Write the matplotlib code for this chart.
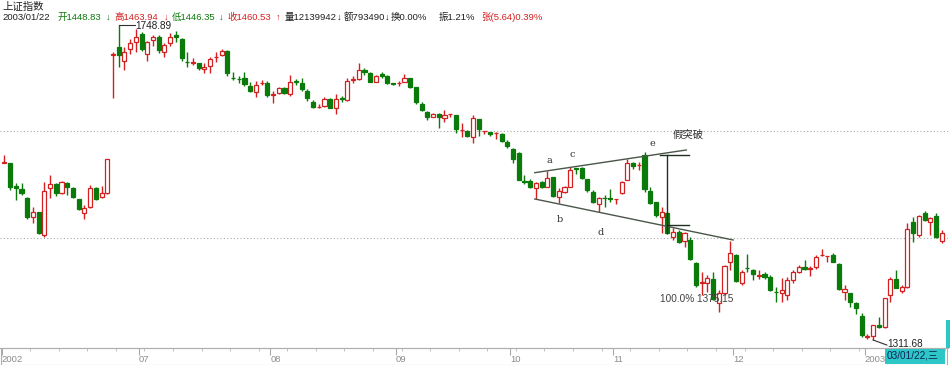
import matplotlib
matplotlib.use('Agg')
import matplotlib.pyplot as plt
from matplotlib.patches import Rectangle
import numpy as np

# 上证指数 日K线 2002/06 - 2003/01/22
opens = [
    1558.0, 1557.4, 1525.4, 1521.3, 1508.8, 1482.4, 1489.3, 1457.4, 1522.7, 1528.2,
    1515.7, 1529.6, 1522.7, 1507.4, 1488.0, 1496.3, 1522.7, 1510.2, 1515.7, 1707.3,
    1718.4, 1699.3, 1715.6, 1725.3, 1736.4, 1708.6, 1728.1, 1732.2, 1711.4, 1723.9,
    1735.0, 1729.5, 1698.2, 1696.8, 1696.2, 1687.8, 1692.0, 1703.8, 1707.3, 1712.8,
    1676.0, 1674.6, 1675.3, 1664.2, 1655.9, 1667.7, 1668.4, 1652.4, 1654.5, 1661.5,
    1653.1, 1670.5, 1668.4, 1657.3, 1642.0, 1634.4, 1636.5, 1646.2, 1633.7, 1646.9,
    1644.8, 1673.2, 1673.9, 1686.4, 1682.3, 1669.8, 1680.9, 1678.1, 1667.7, 1667.7,
    1669.8, 1675.3, 1662.8, 1639.2, 1628.1, 1621.2, 1625.4, 1619.8, 1624.7, 1624.0,
    1602.5, 1601.8, 1593.4, 1618.4, 1601.1, 1600.4, 1598.3, 1597.6, 1586.5, 1576.8,
    1571.2, 1531.7, 1532.4, 1522.7, 1531.0, 1524.0, 1537.9, 1510.2, 1517.1, 1524.0,
    1550.4, 1550.4, 1535.1, 1517.1, 1500.4, 1508.8, 1508.1, 1506.7, 1515.7, 1533.8,
    1557.4, 1553.9, 1568.5, 1518.5, 1503.2, 1482.4, 1488.0, 1454.6, 1461.6, 1449.1,
    1450.5, 1418.6, 1391.5, 1390.8, 1396.4, 1363.0, 1376.9, 1419.9, 1429.7, 1390.8,
    1412.3, 1408.8, 1401.2, 1403.3, 1399.1, 1379.0, 1376.9, 1374.1, 1395.0, 1406.1,
    1413.0, 1410.9, 1413.0, 1429.0, 1427.6, 1429.7, 1417.2, 1378.3, 1376.9, 1363.0,
    1345.0, 1316.5, 1317.2, 1332.5, 1329.7, 1374.1, 1396.3, 1379.7, 1385.2, 1475.5,
    1457.4, 1488.0, 1475.5, 1483.8, 1448.83]
closes = [
    1558.7, 1524.0, 1522.7, 1515.7, 1482.4, 1489.3, 1460.2, 1518.5, 1528.2, 1515.7,
    1531.0, 1524.0, 1510.2, 1493.5, 1494.9, 1522.7, 1507.4, 1515.7, 1562.9, 1708.6,
    1707.3, 1711.8, 1723.9, 1732.2, 1715.6, 1725.3, 1732.2, 1714.2, 1721.1, 1732.2,
    1732.2, 1703.1, 1697.5, 1697.5, 1689.2, 1690.6, 1701.7, 1704.5, 1712.8, 1682.3,
    1675.3, 1673.9, 1667.0, 1657.3, 1665.6, 1668.4, 1651.7, 1653.1, 1661.5, 1654.5,
    1669.8, 1669.8, 1660.1, 1647.6, 1635.1, 1635.1, 1646.2, 1633.7, 1646.2, 1646.2,
    1671.2, 1673.9, 1686.4, 1683.7, 1669.8, 1678.1, 1678.1, 1668.4, 1667.0, 1668.4,
    1675.3, 1662.8, 1642.0, 1630.9, 1621.2, 1625.4, 1621.2, 1624.0, 1625.4, 1604.5,
    1603.2, 1594.8, 1619.8, 1604.5, 1601.8, 1597.6, 1599.0, 1587.9, 1580.9, 1562.9,
    1533.8, 1531.0, 1524.0, 1529.6, 1524.0, 1536.5, 1511.6, 1518.5, 1524.0, 1547.6,
    1549.7, 1536.5, 1519.9, 1503.2, 1508.8, 1508.1, 1507.4, 1507.4, 1531.0, 1557.4,
    1553.2, 1554.6, 1521.3, 1501.8, 1485.2, 1489.3, 1460.2, 1461.6, 1447.7, 1460.2,
    1424.1, 1388.0, 1392.2, 1397.7, 1368.6, 1376.9, 1414.4, 1432.4, 1393.6, 1406.1,
    1411.6, 1403.3, 1401.9, 1399.1, 1381.1, 1378.3, 1381.1, 1395.0, 1406.1, 1413.0,
    1410.2, 1411.6, 1426.9, 1429.7, 1428.3, 1420.0, 1382.5, 1382.5, 1364.4, 1356.1,
    1318.6, 1317.2, 1332.5, 1329.7, 1370.0, 1396.3, 1383.9, 1385.2, 1465.7, 1460.2,
    1483.8, 1478.2, 1481.0, 1454.6, 1460.53]
highs = [
    1568.5, 1558.0, 1529.6, 1529.6, 1510.0, 1496.3, 1490.0, 1531.0, 1540.7, 1529.0,
    1532.0, 1530.5, 1523.5, 1508.0, 1499.1, 1526.8, 1523.5, 1525.4, 1563.5, 1711.4,
    1748.89, 1718.8, 1729.5, 1743.3, 1739.2, 1726.7, 1735.0, 1735.0, 1723.9, 1737.8,
    1740.6, 1730.9, 1711.4, 1703.1, 1696.5, 1696.2, 1704.5, 1711.4, 1715.6, 1713.5,
    1683.7, 1678.1, 1683.7, 1669.8, 1671.2, 1672.6, 1671.2, 1657.3, 1662.8, 1662.2,
    1679.5, 1673.9, 1675.3, 1660.1, 1644.8, 1639.2, 1649.0, 1647.6, 1653.1, 1650.4,
    1675.3, 1678.1, 1696.2, 1689.2, 1683.7, 1678.8, 1683.7, 1679.5, 1668.4, 1671.2,
    1680.9, 1676.0, 1663.5, 1642.0, 1629.5, 1626.1, 1626.1, 1630.9, 1625.6, 1624.5,
    1612.9, 1603.2, 1624.0, 1619.0, 1602.0, 1601.0, 1600.4, 1599.0, 1589.3, 1578.2,
    1572.6, 1540.7, 1535.2, 1531.0, 1532.4, 1546.3, 1538.6, 1522.7, 1525.4, 1551.8,
    1550.6, 1551.1, 1535.5, 1519.9, 1510.2, 1512.9, 1521.3, 1507.6, 1531.7, 1562.9,
    1558.1, 1558.7, 1572.6, 1524.0, 1503.9, 1496.3, 1488.7, 1467.1, 1464.4, 1461.6,
    1454.6, 1419.3, 1406.1, 1401.9, 1406.1, 1381.1, 1415.8, 1449.1, 1431.0, 1408.8,
    1431.0, 1410.2, 1408.8, 1406.1, 1401.9, 1385.2, 1397.7, 1399.1, 1408.8, 1415.8,
    1422.7, 1414.4, 1429.7, 1438.0, 1428.5, 1432.4, 1417.9, 1388.0, 1377.6, 1364.4,
    1349.2, 1320.0, 1333.0, 1343.6, 1370.6, 1399.1, 1408.8, 1388.0, 1474.1, 1482.4,
    1485.2, 1490.7, 1482.4, 1488.0, 1463.94]
lows = [
    1557.4, 1519.9, 1506.0, 1512.9, 1479.6, 1474.1, 1459.0, 1454.6, 1508.8, 1511.6,
    1514.0, 1512.9, 1509.0, 1492.1, 1479.6, 1495.0, 1506.0, 1509.0, 1515.0, 1647.6,
    1690.6, 1686.4, 1708.6, 1711.4, 1712.8, 1698.9, 1719.8, 1710.0, 1704.5, 1719.8,
    1725.3, 1698.9, 1690.6, 1693.4, 1686.4, 1682.3, 1682.3, 1697.5, 1705.9, 1678.1,
    1672.6, 1668.4, 1664.2, 1655.9, 1649.0, 1665.6, 1649.0, 1640.6, 1653.1, 1653.1,
    1650.4, 1665.6, 1657.3, 1643.4, 1633.7, 1633.7, 1635.1, 1633.0, 1625.4, 1642.0,
    1644.0, 1668.4, 1672.6, 1679.5, 1669.1, 1669.1, 1675.3, 1667.0, 1664.9, 1664.2,
    1669.5, 1661.5, 1639.2, 1629.5, 1617.0, 1620.5, 1605.9, 1614.3, 1621.2, 1599.0,
    1593.4, 1593.4, 1585.1, 1594.8, 1597.6, 1594.8, 1590.7, 1586.5, 1578.2, 1557.4,
    1533.1, 1528.2, 1522.7, 1507.4, 1522.7, 1523.4, 1510.2, 1501.8, 1516.4, 1523.4,
    1542.1, 1535.8, 1517.1, 1501.8, 1489.3, 1496.3, 1503.2, 1500.4, 1515.0, 1533.1,
    1549.0, 1547.6, 1517.1, 1501.1, 1482.4, 1460.2, 1458.8, 1450.5, 1446.3, 1440.8,
    1422.7, 1385.2, 1374.1, 1378.3, 1367.2, 1350.5, 1374.1, 1408.8, 1392.2, 1388.0,
    1406.1, 1395.0, 1396.3, 1396.3, 1379.7, 1364.4, 1364.4, 1367.2, 1390.8, 1404.7,
    1408.8, 1400.5, 1410.2, 1428.3, 1420.0, 1419.3, 1381.1, 1367.2, 1357.5, 1347.8,
    1315.8, 1313.1, 1311.68, 1329.0, 1329.0, 1364.4, 1383.2, 1376.9, 1384.5, 1447.7,
    1454.6, 1476.9, 1457.4, 1453.3, 1446.35]

# 月份刻度 (月初K线序号)
month_start = [0, 24, 47, 69, 89, 107, 128, 151]
month_labels = ['2002', '07', '08', '09', '10', '11', '12', '2003']

ref_levels = [1601.8, 1453.3]

RED = '#d42020'
GREEN = '#0a7a0a'
LINE = '#4a564a'

plt.rcParams['font.family'] = ['Liberation Sans', 'Noto Sans CJK SC', 'DejaVu Sans']

o = np.array(opens)
c = np.array(closes)
h = np.array(highs)
l = np.array(lows)
x = np.arange(len(o))
up = c >= o

fig = plt.figure(figsize=(9.5, 3.65), dpi=100)
ax = fig.add_axes([0, 17 / 365, 948 / 950, 328 / 365])

# 参考虚线
for lv in ref_levels:
    ax.axhline(lv, color='#a8a8a8', lw=0.8, ls=(0, (1, 2)), zorder=1)

# 影线
ax.vlines(x, l, h, colors=np.where(up, RED, GREEN), lw=1, zorder=2)
# 实体
bottom = np.minimum(o, c)
height = np.maximum(np.abs(c - o), 0.4)
ax.bar(x[up], height[up], bottom=bottom[up], width=0.72, facecolor='white',
       edgecolor=RED, linewidth=0.9, zorder=3)
ax.bar(x[~up], height[~up], bottom=bottom[~up], width=0.72, facecolor=GREEN,
       edgecolor=GREEN, linewidth=0.9, zorder=3)

# 趋势线
ax.plot([92.8, 119.3], [1543.9, 1575.4], color=LINE, lw=1, zorder=4)
ax.plot([92.8, 127.5], [1507.4, 1450.5], color=LINE, lw=1, zorder=4)
# 假突破 测量线
ax.plot([115.9, 115.9], [1568.5, 1460.2], color='#203020', lw=1, zorder=4)
ax.plot([114.7, 119.8], [1568.5, 1568.5], color='#203020', lw=1, zorder=4)
ax.plot([115.9, 119.8], [1471.3, 1471.3], color='#203020', lw=1, zorder=4)

serif = ['DejaVu Serif']
ax.text(95.3, 1561.5, 'a', fontsize=7, family=serif, color='#303030', ha='center', va='center')
ax.text(97.2, 1479.6, 'b', fontsize=7, family=serif, color='#303030', ha='center', va='center')
ax.text(99.3, 1568.5, 'c', fontsize=7, family=serif, color='#303030', ha='center', va='center')
ax.text(104.4, 1460.2, 'd', fontsize=7, family=serif, color='#303030', ha='center', va='center')
ax.text(113.3, 1585.1, 'e', fontsize=7, family=serif, color='#303030', ha='center', va='center')
ax.text(117.0, 1596.2, '假突破', fontsize=7.5, family=['Noto Sans CJK SC'], color='#303030',
        ha='left', va='center')
ax.text(114.7, 1368.6, '100.0% 1375.15', fontsize=7.2, color='#404040', ha='left', va='center')

# 最高/最低标注
ax.plot([20, 22.8], [1748.89, 1748.89], color='#303030', lw=0.8, zorder=4)
ax.text(22.9, 1747.5, '1748.89', fontsize=7.2, color='#202020', ha='left', va='center')
ax.plot([152, 154.4], [1311.68, 1304.7], color='#303030', lw=0.8, zorder=4)
ax.text(154.5, 1306.0, '1311.68', fontsize=7.2, color='#202020', ha='left', va='center')

ax.set_xlim(-0.77, 165.1)
ax.set_ylim(1300.6, 1755.8)
for s in ['top', 'right', 'left']:
    ax.spines[s].set_visible(False)
ax.spines['bottom'].set_color('#a8a8a8')
ax.set_yticks([])
ax.set_xticks([m - 0.5 for m in month_start])
ax.set_xticklabels(month_labels, ha='left', fontsize=6.8, color='#8c8c8c')
ax.set_xticks(np.arange(4.5, 165, 5), minor=True)
ax.tick_params(axis='x', which='major', direction='out', length=5, color='#a8a8a8', pad=0)
ax.tick_params(axis='x', which='minor', direction='out', length=2, color='#b8b8b8')

# 底部坐标带边框
fig.patches.append(Rectangle((0.5 / 950, 0.5 / 365), 946 / 950, 16.5 / 365,
                             transform=fig.transFigure, fill=False,
                             edgecolor='#b0b0b0', lw=0.8))
fig.patches.append(Rectangle((885 / 950, 1 / 365), 60 / 950, 15 / 365,
                             transform=fig.transFigure, facecolor='#2cc6c6',
                             edgecolor='none', zorder=5))
fig.text(887 / 950, 1 - 356 / 365, '03/01/22,三', fontsize=7.2, color='#10205a',
         va='center', zorder=6)
fig.patches.append(Rectangle((946 / 950, 17 / 365), 4 / 950, 28 / 365,
                             transform=fig.transFigure, facecolor='#2cc6c6',
                             edgecolor='none'))

# 顶部行情信息
def head(px, s, color='#202020'):
    fig.text(px / 950, 1 - 17.5 / 365, s, fontsize=6.8, color=color, va='center')

fig.text(2 / 950, 1 - 6.5 / 365, '上证指数', fontsize=7.5, color='#202020', va='center')
head(2, '2003/01/22')
head(57, '开1448.83', GREEN)
head(106, '↓', GREEN)
head(114, '高1463.94', RED)
head(164, '↓', RED)
head(172, '低1446.35', GREEN)
head(219, '↓', GREEN)
head(227, '收1460.53', RED)
head(276, '↑', RED)
head(285, '量12139942')
head(337, '↓')
head(344, '额793490')
head(385, '↓')
head(391, '换0.00%')
head(439, '振1.21%')
head(481, '张(5.64)0.39%', RED)

fig.savefig('out.png', dpi=100)
